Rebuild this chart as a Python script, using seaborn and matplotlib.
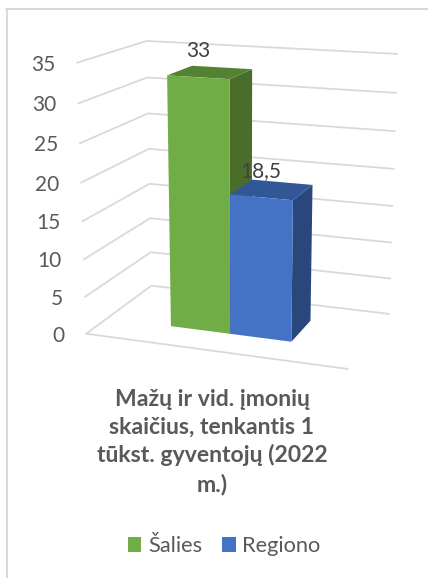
import numpy as np
import pandas as pd
import matplotlib
matplotlib.use("Agg")
import matplotlib.pyplot as plt
import seaborn as sns
from matplotlib.lines import Line2D
from matplotlib.patches import Patch, Polygon
from matplotlib.transforms import Transform

# Duomenys
lygiai = ["Šalies", "Regiono"]
reiksmes = [33, 18.5]
reiksmiu_tekstai = ["33", "18,5"]
y_ticks = [0, 5, 10, 15, 20, 25, 30, 35]
pavadinimas = "Mažų ir vid. įmonių\nskaičius, tenkantis 1\ntūkst. gyventojų (2022\nm.)"

spalvos = ["#70AD47", "#4472C4"]
virsus = ["#548235", "#325796"]
sonas = ["#4A6E2A", "#29477C"]
tekstas = "#595959"
tinklelis = "#D9D9D9"

W, H = 428, 578

# (u, reiksme, gylis) -> pikseliai, 3D vaizdas is Excel
atramos = [
    ((0, 0, 0), (86, 333.3)), ((1, 0, 0), (348, 369)),
    ((0, 0, 1), (151.7, 285.7)), ((1, 0, 1), (389, 314)),
    ((0, 35, 0), (77.3, 62.7)), ((0, 35, 1), (146.7, 40.7)),
    ((1, 35, 1), (397.3, 54)), ((0, 15, 0), (82.3, 221.7)),
    ((0, 15, 1), (149.3, 184)), ((1, 15, 1), (392.3, 205.7)),
]
A, b = [], []
for (u, v, w), (px, py) in atramos:
    A.append([u, v, w, 1, 0, 0, 0, 0, -px * u, -px * v, -px * w])
    b.append(px)
    A.append([0, 0, 0, 0, u, v, w, 1, -py * u, -py * v, -py * w])
    b.append(py)
P = np.append(np.linalg.lstsq(np.array(A, float), np.array(b, float), rcond=None)[0], 1).reshape(3, 4)


def projekcija(u, v, w):
    q = P @ np.array([u, v, w, 1.0])
    return q[0] / q[2], H - q[1] / q[2]


class Perspektyva(Transform):
    input_dims = 2
    output_dims = 2

    def __init__(self, x0, x1, w):
        super().__init__()
        self.x0, self.x1, self.w = x0, x1, w

    def transform_non_affine(self, values):
        out = [projekcija((x - self.x0) / (self.x1 - self.x0), v, self.w) for x, v in values]
        return np.array(out)


df = pd.DataFrame({"rodiklis": ["r"] * 2, "lygis": lygiai, "reiksme": reiksmes})

sns.set_theme(style="white")
plt.rcParams["font.family"] = ["Lato", "DejaVu Sans"]

fig = plt.figure(figsize=(W / 100, H / 100), dpi=100)
ax = fig.add_axes([0, 0, 1, 1])
sns.barplot(data=df, x="rodiklis", y="reiksme", hue="lygis", hue_order=lygiai, palette=spalvos,
            saturation=1, width=0.8, gap=0, legend=False, ax=ax)
x0, x1 = -0.842, 0.842
ax.set_xlim(x0, x1)
ax.set_ylim(0, 35)
ax.axis("off")

w_pr, w_gal = 0.305, 0.703

# Tinklelis
for v in y_ticks:
    pts = [projekcija(0, v, 0), projekcija(0, v, 1), projekcija(1, v, 1)]
    ax.add_line(Line2D(*zip(*pts), color=tinklelis, lw=1.3, transform=None, zorder=1))
ax.add_line(Line2D(*zip(projekcija(0, 0, 0), projekcija(1, 0, 0)), color=tinklelis, lw=1.3,
                   transform=None, zorder=1))

# Stulpeliai: priekis is seaborn, sonas ir virsus pagal tas pacias reiksmes
barai = list(ax.patches)
for i, bar in enumerate(barai):
    bx0 = bar.get_x()
    bx1 = bx0 + bar.get_width()
    val = bar.get_height()
    u0 = (bx0 - x0) / (x1 - x0)
    u1 = (bx1 - x0) / (x1 - x0)
    bar.set_transform(Perspektyva(x0, x1, w_pr))
    bar.set_zorder(3 + 2 * i)
    bar.set_linewidth(0)
    sid = [projekcija(u1, 0, w_pr), projekcija(u1, val, w_pr), projekcija(u1, val, w_gal), projekcija(u1, 0, w_gal)]
    top = [projekcija(u0, val, w_pr), projekcija(u1, val, w_pr), projekcija(u1, val, w_gal), projekcija(u0, val, w_gal)]
    ax.add_patch(Polygon(sid, closed=True, fc=sonas[i], ec="none", transform=None, zorder=2 + 2 * i))
    ax.add_patch(Polygon(top, closed=True, fc=virsus[i], ec="none", transform=None, zorder=2 + 2 * i))
    lx, ly = projekcija((u0 + u1) / 2, val, w_pr)
    fig.text(lx / W, (ly + 26) / H, reiksmiu_tekstai[i], ha="center", va="center",
             fontsize=15, color="#404040", zorder=10)

# Asies skaiciai
for v in y_ticks:
    tx, ty = projekcija(0, v, 0)
    fig.text((tx - 22) / W, (ty - 2) / H, str(v), ha="right", va="center", fontsize=15, color=tekstas)

fig.text(212 / W, (H - 442) / H, pavadinimas, ha="center", va="center", fontsize=16.6,
         fontweight="bold", color=tekstas, linespacing=1.38)

rankenos = [Patch(fc=c, ec="none") for c in spalvos]
fig.legend(rankenos, lygiai, loc="center", bbox_to_anchor=(224 / W, (H - 546) / H), ncol=2, frameon=False,
           fontsize=15.7, labelcolor=tekstas, handlelength=0.64, handleheight=0.64,
           handletextpad=0.3, columnspacing=0.9)

# Remelis
fig.add_artist(Line2D([7 / W, 7 / W], [0, (H - 8.5) / H], color=tinklelis, lw=1.5))
fig.add_artist(Line2D([6 / W, 1], [(H - 8.5) / H] * 2, color=tinklelis, lw=1.5))

fig.savefig("out.png", dpi=100)
